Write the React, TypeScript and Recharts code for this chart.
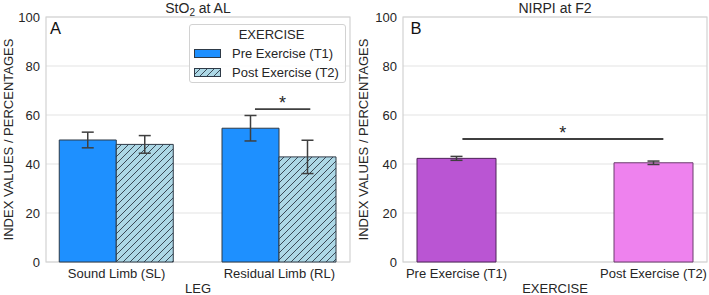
import React from 'react';
import {
  BarChart,
  Bar,
  Cell,
  XAxis,
  YAxis,
  CartesianGrid,
  ErrorBar,
  Legend,
  ReferenceLine,
  ReferenceArea,
} from 'recharts';

// StO2 at AL, by leg and exercise phase (mean ± error)
const legs = ['Sound Limb (SL)', 'Residual Limb (RL)'];
const preStO2 = [49.8, 54.6];
const preStO2Err = [3.2, 5.2];
const postStO2 = [48.0, 42.9];
const postStO2Err = [3.6, 6.8];

// NIRPI at F2, by exercise phase
const phases = ['Pre Exercise (T1)', 'Post Exercise (T2)'];
const nirpi = [42.3, 40.5];
const nirpiErr = [0.8, 0.7];

const yTicks = [0, 20, 40, 60, 80, 100];
const seriesNames = ['Pre Exercise (T1)', 'Post Exercise (T2)'];

// significance brackets: [x from, x to, height], x in category units
const sigStO2: [number, number, number] = [0.85, 1.19, 62.4];
const sigNirpi: [number, number, number] = [0.03, 1.05, 50.2];

const FONT = '"Liberation Sans", Arial, sans-serif';
const TEXT = '#262626';
const GRID = '#e3e3e3';
const SPINE = '#d2d2d2';
const WHISKER = '#3f3f3f';
const PRE = '#1e90ff';
const POST = '#add8e6';
const EDGE = '#2e3a47';
const H = 295;
const TOP = 17;
const XH = 33;

const stO2Data = legs.map((leg, i) => ({
  leg,
  pos: i,
  pre: preStO2[i],
  preErr: preStO2Err[i],
  post: postStO2[i],
  postErr: postStO2Err[i],
}));

const nirpiData = phases.map((phase, i) => ({
  phase,
  pos: i,
  value: nirpi[i],
  err: nirpiErr[i],
}));

const nirpiFill = ['#ba55d3', '#ee82ee'];
const nirpiEdge = ['#4f2459', '#6b3d6d'];

// numeric domain lining up with the centres of a padded 2-category band axis
function numDomain(plotW: number, pad: number): [number, number] {
  const band = (plotW + 2 * pad) / 2;
  const d0 = pad / band - 0.5;
  return [d0, d0 + plotW / band];
}

const tickStyle = { fill: TEXT, fontSize: 13, fontFamily: FONT };
const labelStyle = { fill: TEXT, fontSize: 13, fontFamily: FONT, textAnchor: 'middle' as const };
const starLabel = { value: '*', position: 'top' as const, offset: 0, fill: TEXT, fontSize: 18, fontFamily: FONT };

function HatchSwatch() {
  return (
    <svg width={27} height={9} style={{ display: 'block' }}>
      <defs>
        <pattern id="hatchSwatch" patternUnits="userSpaceOnUse" width="7" height="7">
          <rect width="7" height="7" fill={POST} />
          <path d="M-1,1 L1,-1 M0,7 L7,0 M6,8 L8,6" stroke={EDGE} strokeWidth="0.9" />
        </pattern>
      </defs>
      <rect x={0.5} y={0.5} width={26} height={8} fill="url(#hatchSwatch)" stroke={EDGE} />
    </svg>
  );
}

function ExerciseLegend() {
  const row = (top: number, swatch: React.ReactNode, text: string) => (
    <div style={{ position: 'absolute', left: 4, top, display: 'flex', alignItems: 'center', height: 15 }}>
      {swatch}
      <span style={{ marginLeft: 11, lineHeight: '15px' }}>{text}</span>
    </div>
  );
  return (
    <div
      style={{
        position: 'relative',
        width: 157,
        height: 59,
        boxSizing: 'border-box',
        border: `1px solid ${SPINE}`,
        borderRadius: 3,
        background: 'rgba(255,255,255,0.85)',
        fontFamily: FONT,
        fontSize: 13,
        color: TEXT,
      }}
    >
      <div style={{ position: 'absolute', top: 2, left: 0, width: '100%', textAlign: 'center', lineHeight: '15px', paddingLeft: 4 }}>
        EXERCISE
      </div>
      {row(21, (
        <svg width={27} height={9} style={{ display: 'block' }}>
          <rect x={0.5} y={0.5} width={26} height={8} fill={PRE} stroke={EDGE} />
        </svg>
      ), seriesNames[0])}
      {row(40, <HatchSwatch />, seriesNames[1])}
    </div>
  );
}

function StO2Chart() {
  const width = 355;
  const yW = 46;
  const right = 5;
  const pad = 10.75;
  const dom = numDomain(width - yW - right, pad);
  return (
    <BarChart
      width={width}
      height={H}
      data={stO2Data}
      margin={{ top: TOP, right, bottom: 0, left: 0 }}
      barGap={0}
    >
      <defs>
        <pattern id="hatchPost" patternUnits="userSpaceOnUse" width="7" height="7">
          <rect width="7" height="7" fill={POST} />
          <path d="M-1,1 L1,-1 M0,7 L7,0 M6,8 L8,6" stroke={EDGE} strokeWidth="0.9" />
        </pattern>
      </defs>
      <CartesianGrid vertical={false} stroke={GRID} strokeWidth={1.2} />
      <XAxis
        dataKey="leg"
        height={XH}
        padding={{ left: -pad, right: -pad }}
        axisLine={false}
        tickLine={false}
        tickSize={5}
        tickMargin={2}
        tick={tickStyle}
        interval={0}
        label={{ value: 'LEG', position: 'insideBottom', offset: 2, style: labelStyle }}
      />
      <XAxis
        xAxisId="num"
        dataKey="pos"
        type="number"
        domain={dom}
        allowDataOverflow
        height={0}
        axisLine={false}
        tickLine={false}
        tick={false}
      />
      <YAxis
        width={yW}
        domain={[0, 100]}
        ticks={yTicks}
        axisLine={false}
        tickLine={false}
        tickSize={4}
        tickMargin={2}
        tick={tickStyle}
        label={{
          value: 'INDEX VALUES / PERCENTAGES',
          angle: -90,
          position: 'insideLeft',
          offset: 8,
          style: labelStyle,
        }}
      />
      <ReferenceArea xAxisId="num" x1={dom[0]} x2={dom[1]} y1={0} y2={100} fill="none" stroke={SPINE} strokeWidth={1.2} ifOverflow="visible" />
      <Bar dataKey="pre" name={seriesNames[0]} barSize={57} fill={PRE} stroke={EDGE} strokeWidth={1} isAnimationActive={false}>
        <ErrorBar dataKey="preErr" width={6} stroke={WHISKER} strokeWidth={1.5} isAnimationActive={false} />
      </Bar>
      <Bar dataKey="post" name={seriesNames[1]} barSize={57} fill="url(#hatchPost)" stroke={EDGE} strokeWidth={1} isAnimationActive={false}>
        <ErrorBar dataKey="postErr" width={6} stroke={WHISKER} strokeWidth={1.5} isAnimationActive={false} />
      </Bar>
      <ReferenceLine
        xAxisId="num"
        ifOverflow="visible"
        segment={[{ x: sigStO2[0], y: sigStO2[2] }, { x: sigStO2[1], y: sigStO2[2] }]}
        stroke={WHISKER}
        strokeWidth={1.8}
        label={starLabel}
      />
      <Legend
        layout="horizontal"
        align="center"
        verticalAlign="middle"
        wrapperStyle={{ top: 24, left: 189, width: 157 }}
        content={() => <ExerciseLegend />}
      />
    </BarChart>
  );
}

function NirpiChart() {
  const width = 354;
  const yW = 48;
  const right = 2;
  const pad = 45;
  const dom = numDomain(width - yW - right, pad);
  return (
    <BarChart
      width={width}
      height={H}
      data={nirpiData}
      margin={{ top: TOP, right, bottom: 0, left: 0 }}
    >
      <CartesianGrid vertical={false} stroke={GRID} strokeWidth={1.2} />
      <XAxis
        dataKey="phase"
        height={XH}
        padding={{ left: -pad, right: -pad }}
        axisLine={false}
        tickLine={false}
        tickSize={5}
        tickMargin={2}
        tick={tickStyle}
        interval={0}
        label={{ value: 'EXERCISE', position: 'insideBottom', offset: 2, style: labelStyle }}
      />
      <XAxis
        xAxisId="num"
        dataKey="pos"
        type="number"
        domain={dom}
        allowDataOverflow
        height={0}
        axisLine={false}
        tickLine={false}
        tick={false}
      />
      <YAxis
        width={yW}
        domain={[0, 100]}
        ticks={yTicks}
        axisLine={false}
        tickLine={false}
        tickSize={4}
        tickMargin={2}
        tick={tickStyle}
        label={{
          value: 'INDEX VALUES / PERCENTAGES',
          angle: -90,
          position: 'insideLeft',
          offset: 8,
          style: labelStyle,
        }}
      />
      <ReferenceArea xAxisId="num" x1={dom[0]} x2={dom[1]} y1={0} y2={100} fill="none" stroke={SPINE} strokeWidth={1.2} ifOverflow="visible" />
      <Bar dataKey="value" barSize={79} strokeWidth={1} isAnimationActive={false}>
        {nirpiData.map((d, i) => (
          <Cell key={d.phase} fill={nirpiFill[i]} stroke={nirpiEdge[i]} />
        ))}
        <ErrorBar dataKey="err" width={6} stroke={WHISKER} strokeWidth={1.5} isAnimationActive={false} />
      </Bar>
      <ReferenceLine
        xAxisId="num"
        ifOverflow="visible"
        segment={[{ x: sigNirpi[0], y: sigNirpi[2] }, { x: sigNirpi[1], y: sigNirpi[2] }]}
        stroke={WHISKER}
        strokeWidth={1.8}
        label={starLabel}
      />
    </BarChart>
  );
}

const titleStyle: React.CSSProperties = {
  position: 'absolute',
  top: 1,
  width: 304,
  textAlign: 'center',
  fontSize: 14,
  lineHeight: '14px',
  color: TEXT,
  fontFamily: FONT,
  whiteSpace: 'nowrap',
};

const letterStyle: React.CSSProperties = {
  position: 'absolute',
  top: 20,
  fontSize: 16.5,
  lineHeight: '16.5px',
  color: '#111',
  fontFamily: FONT,
};

export default function App() {
  return (
    <div style={{ position: 'absolute', left: 0, top: 0, width: 709, height: H, background: '#fff', fontFamily: FONT }}>
      <div style={{ position: 'absolute', left: 0, top: 0 }}>
        <StO2Chart />
      </div>
      <div style={{ position: 'absolute', left: 355, top: 0 }}>
        <NirpiChart />
      </div>
      <div style={{ ...titleStyle, left: 46 }}>
        StO<span style={{ fontSize: 10, position: 'relative', top: 3 }}>2</span> at AL
      </div>
      <div style={{ ...titleStyle, left: 403 }}>NIRPI at F2</div>
      <div style={{ ...letterStyle, left: 50 }}>A</div>
      <div style={{ ...letterStyle, left: 410.5 }}>B</div>
    </div>
  );
}
